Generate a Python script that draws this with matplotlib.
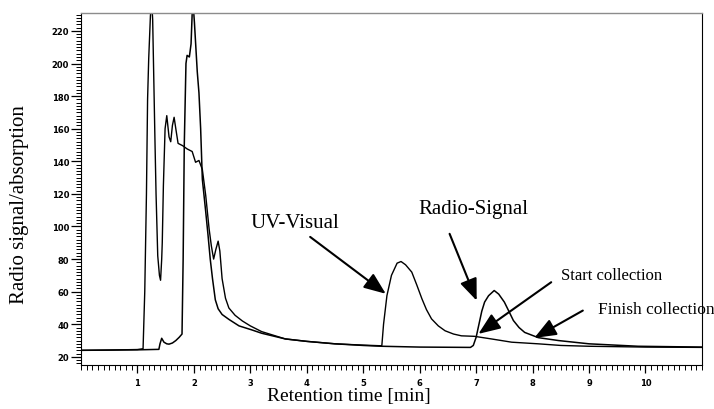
import numpy as np
import matplotlib
matplotlib.use("Agg")
import matplotlib.pyplot as plt
from matplotlib.ticker import MultipleLocator

# UV-Visual trace (rises at ~1.1 min, second peak at ~5.7 min)
uv_t = [0.0, 0.5, 1.0, 1.10, 1.13, 1.16, 1.18, 1.20, 1.23, 1.25, 1.27, 1.31, 1.33, 1.36,
        1.39, 1.41, 1.43, 1.44, 1.46, 1.49, 1.52, 1.56, 1.59, 1.62, 1.65, 1.68, 1.72,
        1.80, 1.88, 1.97, 2.03, 2.09, 2.15, 2.21, 2.27, 2.31, 2.35, 2.39, 2.43, 2.46,
        2.50, 2.56, 2.62, 2.73, 2.86, 3.0, 3.2, 3.62, 4.0, 4.5, 5.0, 5.32,
        5.33, 5.36, 5.42, 5.5, 5.6, 5.67, 5.75, 5.86, 5.95, 6.04, 6.12, 6.21, 6.33,
        6.45, 6.6, 6.74, 6.97, 7.27, 7.63, 8.1, 8.5, 9.0, 10.0, 11.0]
uv_y = [24.0, 24.2, 24.5, 25.0, 60, 120, 178, 203, 229, 240, 227, 154, 120, 82,
        70, 67, 80, 90, 125, 160, 168, 155, 152, 162, 167, 160, 151,
        149.6, 147.6, 146, 139.4, 140.5, 135, 119, 98.5, 88, 80, 86, 91, 85,
        68, 56, 50, 45.5, 42, 39, 35.5, 31, 29.5, 28, 27.2, 26.8,
        27, 40, 57.6, 70, 77.5, 78.5, 76.5, 72, 64, 55.6, 49, 43.3, 39,
        36, 34, 32.9, 32.6, 31, 29, 28, 27, 26.5, 26, 25.8]

# Radio-Signal trace (rises at ~1.8 min, second peak at ~7.3 min)
radio_t = [0.0, 1.0, 1.38, 1.40, 1.43, 1.47, 1.52, 1.56, 1.62, 1.68, 1.74, 1.79, 1.81,
           1.83, 1.86, 1.88, 1.92, 1.95, 1.98, 2.01, 2.03, 2.06, 2.09, 2.12, 2.15, 2.21,
           2.25, 2.29, 2.33, 2.38, 2.43, 2.5, 2.62, 2.8, 3.03, 3.2, 3.62, 4.0, 4.5,
           5.0, 5.33, 6.0, 6.9, 6.95, 7.0, 7.05, 7.1, 7.15, 7.22, 7.32, 7.4, 7.5, 7.58,
           7.66, 7.76, 7.86, 8.1, 8.46, 9.0, 9.87, 11.0]
radio_y = [24.0, 24.3, 24.6, 28, 31.4, 29, 28, 27.8, 28.5, 30, 32, 34, 80,
           150, 200, 205, 204, 212, 240, 225, 213, 195, 182, 160, 129, 109,
           95, 80, 68, 55, 49.5, 46, 43, 39, 36.5, 34.5, 31, 29.5, 28,
           27, 26.5, 26, 25.8, 27, 32, 40, 48, 53.6, 57.5, 60.7, 58.5, 53.6, 48,
           42.3, 38, 35, 31.8, 30, 28, 26.5, 26]

serif = "Liberation Serif"

fig = plt.figure(figsize=(7.14, 4.10), dpi=100)
ax = fig.add_axes([0.1134, 0.1073, 0.8697, 0.8586])

ax.plot(uv_t, uv_y, color="black", lw=1.0)
ax.plot(radio_t, radio_y, color="black", lw=1.1)

ax.set_xlim(0, 11)
ax.set_ylim(15, 231)

ax.xaxis.set_minor_locator(MultipleLocator(0.1))
ax.yaxis.set_minor_locator(MultipleLocator(2))
ax.set_xticks(range(1, 11))
ax.set_yticks(range(20, 221, 20))
for lab in ax.get_xticklabels() + ax.get_yticklabels():
    lab.set_fontweight("bold")

ax.tick_params(axis="x", which="major", length=6, width=0.9, pad=3, labelsize=6)
ax.tick_params(axis="x", which="minor", length=3.5, width=0.7)
ax.tick_params(axis="y", which="major", length=7, width=0.9, pad=1.5, labelsize=6)
ax.tick_params(axis="y", which="minor", length=3.5, width=0.7)

ax.spines["top"].set_color("0.55")
ax.spines["top"].set_linewidth(1.0)
ax.spines["right"].set_linewidth(0.8)

fig.text(0.027, 0.5, "Radio signal/absorption", rotation=90, ha="center", va="center",
         family=serif, fontsize=15)
fig.text(0.488, 0.033, "Retention time [min]", ha="center", va="center",
         family=serif, fontsize=14)

arrow = dict(arrowstyle="-|>,head_length=0.7,head_width=0.28", color="black",
             lw=1.5, mutation_scale=19, shrinkA=0, shrinkB=0)

ax.text(3.01, 99.9, "UV-Visual", family=serif, fontsize=15, ha="left", va="baseline")
ax.annotate("", xy=(5.40, 58.7), xytext=(4.06, 93.6), arrowprops=arrow)

ax.text(5.98, 108.3, "Radio-Signal", family=serif, fontsize=15, ha="left", va="baseline")
ax.annotate("", xy=(7.01, 54.5), xytext=(6.53, 95.5), arrowprops=arrow)

ax.text(8.51, 67.9, "Start collection", family=serif, fontsize=12, ha="left", va="baseline")
ax.annotate("", xy=(7.04, 34.1), xytext=(8.33, 65.8), arrowprops=arrow)

ax.text(9.16, 47.0, "Finish collection", family=serif, fontsize=12.5, ha="left",
        va="baseline", clip_on=False)
ax.annotate("", xy=(8.03, 31.6), xytext=(8.89, 48.4), arrowprops=arrow)

fig.savefig("out.png", dpi=100)
